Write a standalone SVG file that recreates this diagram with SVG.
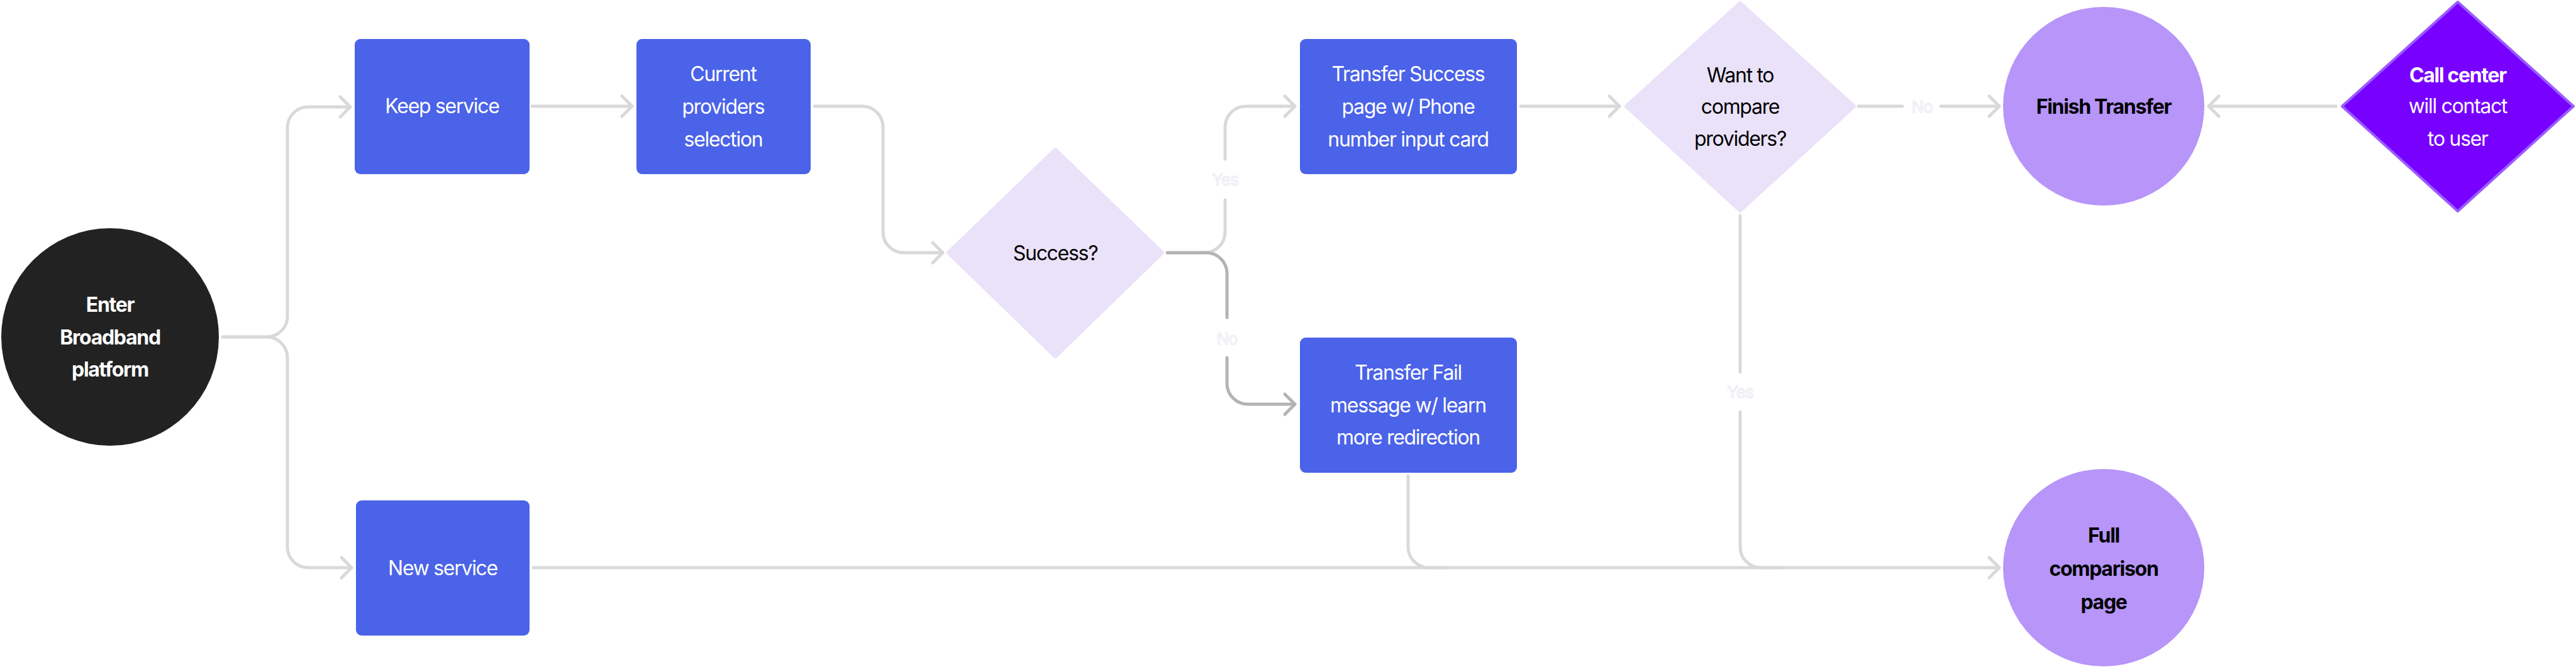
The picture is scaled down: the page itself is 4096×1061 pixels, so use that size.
<svg xmlns="http://www.w3.org/2000/svg" width="4096" height="1061" viewBox="0 0 4096 1061">
<defs>
<style>
.t{font-family:Inter,"Liberation Sans",sans-serif;font-size:32px;letter-spacing:-1.3px;text-anchor:middle}
.w{fill:#ffffff}
.k{fill:#000000}
.b{font-weight:700}
.lbl{font-family:Inter,"Liberation Sans",sans-serif;font-size:26px;letter-spacing:-1px;text-anchor:middle;fill:#ffffff;stroke:#e9e6ef;stroke-width:1}
.rect{fill:#4b63e8}
.dia{fill:#eae2f8;stroke:#eae2f8;stroke-width:6;stroke-linejoin:round}
.end{fill:#b795f9}
.c{fill:none;stroke:#d9d9d9;stroke-width:5;stroke-linecap:round}
.cd{fill:none;stroke:#b3b3b3;stroke-width:5;stroke-linecap:round}
</style>
<marker id="ah" markerUnits="userSpaceOnUse" markerWidth="40" markerHeight="40" viewBox="-20 -20 40 40" refX="0" refY="0" orient="auto">
<path d="M-16 -16 L0 0 L-16 16" fill="none" stroke="#d9d9d9" stroke-width="5" stroke-linecap="round" stroke-linejoin="round"/>
</marker>
<marker id="ahd" markerUnits="userSpaceOnUse" markerWidth="40" markerHeight="40" viewBox="-20 -20 40 40" refX="0" refY="0" orient="auto">
<path d="M-16 -16 L0 0 L-16 16" fill="none" stroke="#b3b3b3" stroke-width="5" stroke-linecap="round" stroke-linejoin="round"/>
</marker>
</defs>
<rect width="4096" height="1061" fill="#ffffff"/>

<g id="connectors">
<path class="c" d="M354 536 H424 A33 33 0 0 0 457 503 V203 A33 33 0 0 1 490 170 H557" marker-end="url(#ah)"/>
<path class="c" d="M354 536 H424 A33 33 0 0 1 457 569 V870 A33 33 0 0 0 490 903 H559" marker-end="url(#ah)"/>
<path class="c" d="M846 169 H1005" marker-end="url(#ah)"/>
<path class="c" d="M1295 169 H1371 A33 33 0 0 1 1404 202 V369 A33 33 0 0 0 1437 402 H1499" marker-end="url(#ah)"/>
<path class="c" d="M1856 402 H1915 A33 33 0 0 0 1948 369 V318 M1948 253 V202 A33 33 0 0 1 1981 169 H2059" marker-end="url(#ah)"/>
<path class="cd" d="M1856 402 H1918 A33 33 0 0 1 1951 435 V505 M1951 569 V610 A33 33 0 0 0 1984 643 H2059" marker-end="url(#ahd)"/>
<path class="c" d="M2418 169 H2575" marker-end="url(#ah)"/>
<path class="c" d="M2955 169 H3025 M3086 169 H3179" marker-end="url(#ah)"/>
<path class="c" d="M3714 169 H3512" marker-end="url(#ah)"/>
<path class="c" d="M2767 343 V592 M2767 655 V870 A33 33 0 0 0 2800 903 H2830"/>
<path class="c" d="M2239 757 V870 A33 33 0 0 0 2272 903 H2300"/>
<path class="c" d="M848 903 H3179" marker-end="url(#ah)"/>
<text class="lbl" x="1948" y="295">Yes</text>
<text class="lbl" x="1951" y="548">No</text>
<text class="lbl" x="3056" y="179">No</text>
<text class="lbl" x="2767" y="633">Yes</text>
</g>

<g id="enter">
<ellipse cx="175" cy="536" rx="173" ry="173" fill="#222222"/>
<text class="t w b" x="175" y="496">Enter</text>
<text class="t w b" x="175" y="548">Broadband</text>
<text class="t w b" x="175" y="599">platform</text>
</g>

<g id="keep">
<rect class="rect" x="564" y="62" width="278" height="215" rx="9"/>
<text class="t w" x="703" y="180">Keep service</text>
</g>

<g id="current">
<rect class="rect" x="1012" y="62" width="277" height="215" rx="9"/>
<text class="t w" x="1150" y="129">Current</text>
<text class="t w" x="1150" y="181">providers</text>
<text class="t w" x="1150" y="233">selection</text>
</g>

<g id="new">
<rect class="rect" x="566" y="796" width="276" height="215" rx="9"/>
<text class="t w" x="704" y="915">New service</text>
</g>

<g id="success">
<polygon class="dia" points="1678,238 1848,402 1678,567 1508,402"/>
<text class="t k" x="1678" y="414">Success?</text>
</g>

<g id="tsuccess">
<rect class="rect" x="2067" y="62" width="345" height="215" rx="9"/>
<text class="t w" x="2239" y="129">Transfer Success</text>
<text class="t w" x="2239" y="181">page w/ Phone</text>
<text class="t w" x="2239" y="233">number input card</text>
</g>

<g id="tfail">
<rect class="rect" x="2067" y="537" width="345" height="215" rx="9"/>
<text class="t w" x="2239" y="604">Transfer Fail</text>
<text class="t w" x="2239" y="656">message w/ learn</text>
<text class="t w" x="2239" y="707">more redirection</text>
</g>

<g id="want">
<polygon class="dia" points="2767,5 2948,169 2767,335 2586,169"/>
<text class="t k" x="2767" y="131">Want to</text>
<text class="t k" x="2767" y="181">compare</text>
<text class="t k" x="2767" y="232">providers?</text>
</g>

<g id="finish">
<ellipse class="end" cx="3345" cy="169" rx="160" ry="158"/>
<text class="t k b" x="3345" y="181">Finish Transfer</text>
</g>

<g id="callcenter">
<polygon points="3908,3 4092,169 3908,336 3724,169" fill="#7700ff" stroke="#9b5cff" stroke-width="4" stroke-linejoin="round"/>
<text class="t w b" x="3908" y="131">Call center</text>
<text class="t w" x="3908" y="180">will contact</text>
<text class="t w" x="3908" y="232">to user</text>
</g>

<g id="full">
<ellipse class="end" cx="3345" cy="903" rx="160" ry="157"/>
<text class="t k b" x="3345" y="863">Full</text>
<text class="t k b" x="3345" y="916">comparison</text>
<text class="t k b" x="3345" y="969">page</text>
</g>
</svg>
